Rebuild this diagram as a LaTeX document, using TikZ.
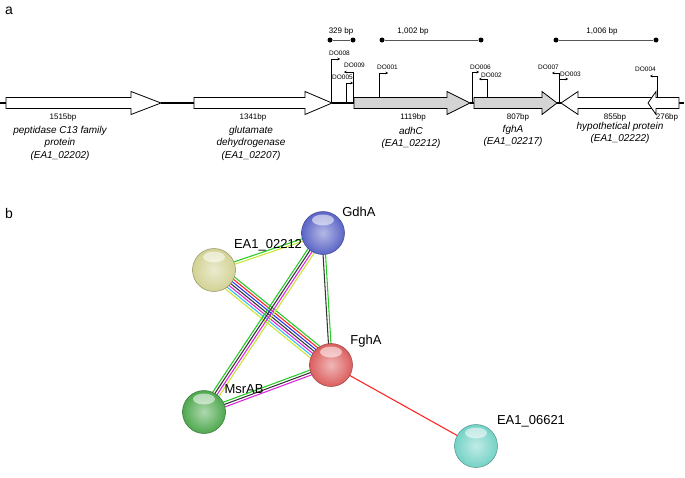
\documentclass[tikz,border=0pt]{standalone}
\usepackage{fontspec}
\setmainfont{Liberation Sans}
\usetikzlibrary{arrows.meta,calc,backgrounds}
\definecolor{genegray}{HTML}{D4D4D4}
\definecolor{barcol}{HTML}{555555}
\definecolor{eyel}{HTML}{C8E632}
\definecolor{egrn}{HTML}{22CC22}
\definecolor{ered}{HTML}{FF2020}
\definecolor{eblu}{HTML}{2233EE}
\definecolor{emag}{HTML}{DD22DD}
\definecolor{ecya}{HTML}{33BBEE}
\definecolor{eblk}{HTML}{333333}
\definecolor{bblue}{HTML}{5A64C6}
\definecolor{byel}{HTML}{D2D294}
\definecolor{bred}{HTML}{DC5E5E}
\definecolor{bgrn}{HTML}{4EA84E}
\definecolor{bcya}{HTML}{74D2C6}
\pgfdeclarelayer{bgzero}
\pgfsetlayers{bgzero,background,main}
\newcommand{\edgebundle}[4]{%
  \foreach \cc [count=\ii] in {#4} {%
    \pgfmathsetmacro{\off}{(\ii-(#3+1)/2)*2.5}%
    \draw[edgeline, draw=\cc] ($(#1.center)!\off pt!90:(#2.center)$) -- ($(#2.center)!\off pt!-90:(#1.center)$);
  }}
\begin{document}
\begin{tikzpicture}[x=1pt,y=-1pt,
  gene/.style={draw=black, line width=0.8pt, fill=white, line join=miter},
  genegr/.style={gene, fill=genegray},
  link/.style={line width=1.6pt},
  prom/.style={draw=black, line width=0.7pt, -{Stealth[length=2.6pt,width=2.6pt]}},
  dolab/.style={font=\fontsize{6.5}{7}\selectfont, inner sep=0pt, anchor=west},
  bplab/.style={font=\fontsize{8}{9}\selectfont, inner sep=0pt},
  genelab/.style={font=\fontsize{10}{12.5}\selectfont\itshape, inner sep=0pt, align=center, anchor=north},
  sbar/.style={draw=barcol, line width=0.9pt},
  sdot/.style={circle, fill=black, inner sep=0pt, minimum size=5pt},
  panel/.style={font=\fontsize{14}{16}\selectfont, inner sep=0pt},
  ballnode/.style={circle, minimum size=43pt, inner sep=0pt,
    inner color=#1!45!white, outer color=#1, draw=#1!70!black, line width=0.5pt,
    path picture={\fill[white, opacity=0.55] ([yshift=-8.5pt]path picture bounding box.north) ellipse (11pt and 5.5pt);}},
  netlab/.style={font=\fontsize{13}{15}\selectfont, inner sep=0pt},
  edgeline/.style={line width=1.05pt}
]
\useasboundingbox (0,0) rectangle (685,477);
\begin{pgfonlayer}{bgzero}
\fill[white] (0,0) rectangle (685,477);
\end{pgfonlayer}

% ---------- panel a ----------
\node[panel] (pa) at (9,11) {a};

% connecting lines
\draw[link] (0,103) -- (6,103);
\draw[link] (161,103) -- (194,103);
\draw[link] (332,103) -- (354,103);
\draw[link] (470,103) -- (474,103);
\draw[link] (557,103) -- (561,103);
\draw[link] (679,103) -- (684,103);

% genes
\draw[gene] (6,97.5) -- (131,97.5) -- (131,91.5) -- (161,103) -- (131,114.5) -- (131,108.5) -- (6,108.5) -- cycle;
\draw[gene] (194,97.5) -- (305,97.5) -- (305,91.5) -- (332,103) -- (305,114.5) -- (305,108.5) -- (194,108.5) -- cycle;
\draw[genegr] (354,97.5) -- (447,97.5) -- (447,91.5) -- (470,103) -- (447,114.5) -- (447,108.5) -- (354,108.5) -- cycle;
\draw[genegr] (474,97.5) -- (542,97.5) -- (542,91.5) -- (557,103) -- (542,114.5) -- (542,108.5) -- (474,108.5) -- cycle;
\draw[gene] (652,97.5) -- (578,97.5) -- (578,91.5) -- (561,103) -- (578,114.5) -- (578,108.5) -- (652,108.5) -- cycle;
\draw[gene] (679,97.5) -- (656,97.5) -- (656,91.5) -- (648,103) -- (656,114.5) -- (656,108.5) -- (679,108.5) -- cycle;

% bp labels
\node[bplab] (bp1) at (63,117) {1515bp};
\node[bplab] (bp2) at (253,117) {1341bp};
\node[bplab] (bp3) at (413,117) {1119bp};
\node[bplab] (bp4) at (518,117) {807bp};
\node[bplab] (bp5) at (615,117) {855bp};
\node[bplab] (bp6) at (667,117) {276bp};

% gene names
\node[genelab] (g1) at (60,126) {peptidase C13 family\\protein\\(EA1\_02202)};
\node[genelab] (g2) at (251,126) {glutamate\\dehydrogenase\\(EA1\_02207)};
\node[genelab] (g3) at (411,127) {adhC\\(EA1\_02212)};
\node[genelab] (g4) at (513,125) {fghA\\(EA1\_02217)};
\node[genelab] (g5) at (620,122) {hypothetical protein\\(EA1\_02222)};

% scale bars
\node[sdot] (s1a) at (330,40) {};
\node[sdot] (s1b) at (353,40) {};
\draw[sbar] (s1a) -- (s1b);
\node[bplab] (s1t) at (341,31) {329 bp};
\node[sdot] (s2a) at (382,40) {};
\node[sdot] (s2b) at (481,40) {};
\draw[sbar] (s2a) -- (s2b);
\node[bplab] (s2t) at (413,31) {1,002 bp};
\node[sdot] (s3a) at (556,40) {};
\node[sdot] (s3b) at (656,40) {};
\draw[sbar] (s3a) -- (s3b);
\node[bplab] (s3t) at (602,31) {1,006 bp};

% promoters
\draw[prom] (331,103) |- (340,59);
\node[dolab] (d8) at (329,53) {DO008};
\draw[prom] (353,103) |- (344,72);
\node[dolab] (d9) at (344,65) {DO009};
\draw[prom] (346,103) |- (353,83);
\node[dolab] (d5) at (332,77) {DO005};
\draw[prom] (379,97.5) |- (388,73);
\node[dolab] (d1) at (377,67) {DO001};
\draw[prom] (472,103) |- (479,72);
\node[dolab] (d6) at (470,67) {DO006};
\draw[prom] (487,97.5) |- (479,79);
\node[dolab] (d2) at (481,75) {DO002};
\draw[prom] (559,103) |- (552,73);
\node[dolab] (d7) at (538,67) {DO007};
\draw[prom] (559,79) -- (568,79);
\node[dolab] (d3) at (560,74) {DO003};
\draw[prom] (657,97.5) |- (650,76);
\node[dolab] (d4) at (635,69) {DO004};

% ---------- panel b ----------
\node[panel] (pb) at (9,213) {b};

\node[ballnode=bblue] (G) at (323,233) {};
\node[ballnode=byel] (Y) at (214,270) {};
\node[ballnode=bred] (R) at (331,365) {};
\node[ballnode=bgrn] (M) at (204,412) {};
\node[ballnode=bcya] (C) at (476,446) {};

\begin{pgfonlayer}{background}
\edgebundle{Y}{G}{2}{eyel,egrn}
\edgebundle{Y}{R}{7}{eyel,ecya,emag,eblk,eblu,ered,egrn}
\edgebundle{G}{R}{2}{eblk,egrn}
\edgebundle{G}{M}{4}{egrn,eblk,emag,eyel}
\edgebundle{M}{R}{3}{emag,eblk,egrn}
\draw[edgeline, draw=ered] (R) -- (C);
\end{pgfonlayer}

\node[netlab] (lG) at (359,212) {GdhA};
\node[netlab] (lY) at (268,245) {EA1\_02212};
\node[netlab] (lR) at (366,341) {FghA};
\node[netlab] (lM) at (244,389) {MsrAB};
\node[netlab] (lC) at (531,421) {EA1\_06621};
\end{tikzpicture}
\end{document}
